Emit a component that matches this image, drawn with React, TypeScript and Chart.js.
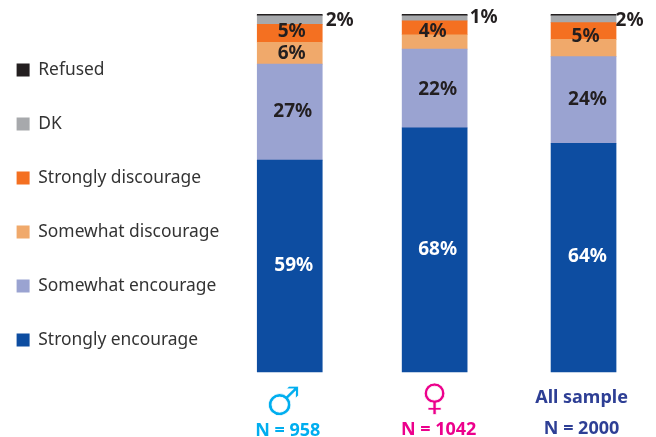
import React, { useEffect, useRef } from "react";
import { Chart, registerables } from "chart.js";

Chart.register(...registerables);

const groups = ["♂", "♀", "All sample"];
const sampleLabels = ["N = 958", "N = 1042", "N = 2000"];
const groupSlots = [0, 145, 294];

const stronglyEncourage = [59.2, 68.2, 63.9];
const somewhatEncourage = [26.8, 22, 24.2];
const somewhatDiscourage = [6.1, 4, 4.8];
const stronglyDiscourage = [5, 3.9, 4.7];
const dontKnow = [2.4, 1.4, 1.9];
const refused = [0.5, 0.5, 0.5];

const DARK = "#231f20";
const groupColors = ["#00aeef", "#ec008c", "#2e3f95"];
const FAMILY = '"Noto Sans", "Open Sans", sans-serif';

// dataset index -> per-bar label nudges [dx, dy], null = no label
const labelNudges: Record<number, ([number, number] | null)[]> = {
  0: [[4, 0], [3, 0], [4, -1]],
  1: [[3, 0], [3, 1], [4, 0]],
  2: [[2, 0], null, null],
  3: [[2, -2], [-2, 4], [2, 6]],
  4: [[50, 1], [49, -1], [46, 1]],
};

const overlay = {
  id: "overlay",
  afterDatasetsDraw(chart: any) {
    const { ctx } = chart;
    const x = chart.scales.x;
    ctx.save();
    ctx.textAlign = "center";
    ctx.textBaseline = "middle";
    Object.keys(labelNudges).forEach((k) => {
      const di = Number(k);
      const meta = chart.getDatasetMeta(di);
      labelNudges[di].forEach((n, i) => {
        if (!n) return;
        const el = meta.data[i];
        const cy = (el.y + el.base) / 2;
        ctx.font = `bold 19px ${FAMILY}`;
        ctx.fillStyle = di === 0 ? "#ffffff" : DARK;
        ctx.fillText(`${Math.round(chart.data.datasets[di].data[i].y)}%`, el.x + n[0], cy + n[1]);
      });
    });
    groups.forEach((g, i) => {
      const px = x.getPixelForValue(groupSlots[i]);
      ctx.fillStyle = groupColors[i];
      if (i < 2) {
        ctx.font = `${i === 0 ? 40 : 37}px "DejaVu Sans"`;
        const gx = px + (i === 0 ? -6.5 : 0);
        const gy = i === 0 ? 405 : 400.5;
        ctx.fillText(g, gx, gy);
        ctx.strokeStyle = "#ffffff";
        ctx.lineWidth = 0.7;
        ctx.strokeText(g, gx, gy);
      } else {
        ctx.font = `bold 18px ${FAMILY}`;
        ctx.fillText(g, px - 2, 398);
      }
      ctx.font = `bold 18px ${FAMILY}`;
      ctx.fillText(sampleLabels[i], px + [-2, 4, -2][i], [431, 430, 429][i]);
    });
    ctx.restore();
  },
};

const series = (label: string, values: number[], color: string) => ({
  label,
  data: values.map((y, i) => ({ x: groupSlots[i], y })),
  backgroundColor: color,
  barThickness: 65,
  borderWidth: 0,
});

export default function App() {
  const ref = useRef<HTMLCanvasElement>(null);
  useEffect(() => {
    document.body.style.margin = "0";
    const chart = new Chart(ref.current!, {
      type: "bar",
      data: {
        datasets: [
          series("Strongly encourage", stronglyEncourage, "#0d4da1"),
          series("Somewhat encourage", somewhatEncourage, "#9aa3d1"),
          series("Somewhat discourage", somewhatDiscourage, "#f0a96b"),
          series("Strongly discourage", stronglyDiscourage, "#f47021"),
          series("DK", dontKnow, "#a7a9ac"),
          series("Refused", refused, DARK),
        ],
      },
      options: {
        animation: false,
        responsive: false,
        layout: { padding: { top: 14, bottom: 0, left: -20, right: 0 } },
        scales: {
          x: { type: "linear", stacked: true, display: false, min: -60.5, max: 366.5, offset: false },
          y: { stacked: true, display: false, min: -18.16, max: 100 },
        },
        plugins: {
          tooltip: { enabled: false },
          title: { display: false },
          legend: {
            position: "left",
            align: "start",
            reverse: true,
            title: { display: true, text: " ", padding: 0, font: { size: 9 } },
            labels: {
              boxWidth: 13,
              boxHeight: 13,
              padding: 36.6,
              color: "#333",
              font: { family: FAMILY, size: 17.4 },
            },
          },
        },
      },
      plugins: [overlay],
    } as any);
    return () => chart.destroy();
  }, []);
  return <canvas ref={ref} width={656} height={437} style={{ display: "block" }} />;
}
